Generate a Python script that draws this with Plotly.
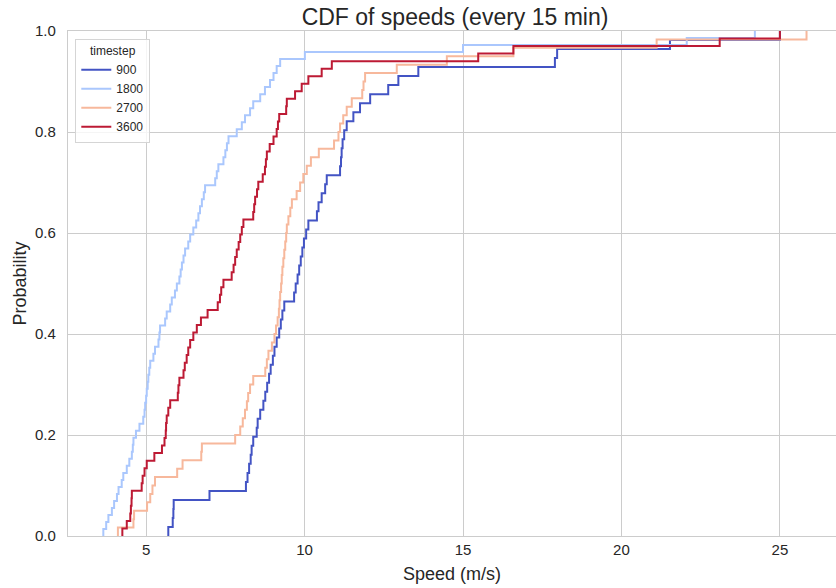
import numpy as np
import plotly.graph_objects as go

# ---- data: individual speed samples (m/s), per timestep ----
timesteps = [900, 1800, 2700, 3600]

speeds_900 = [5.70, 5.84, 5.86, 5.87, 7.00, 8.15, 8.20, 8.25, 8.30, 8.33, 8.38, 8.49,
              8.52, 8.60, 8.70, 8.76, 8.82, 8.88, 8.93, 9.00, 9.05, 9.12, 9.20, 9.25,
              9.30, 9.36, 9.67, 9.72, 9.78, 9.83, 9.88, 9.93, 9.98, 10.05, 10.12, 10.39,
              10.44, 10.54, 10.65, 10.70, 11.12, 11.15, 11.17, 11.20, 11.25, 11.33, 11.54,
              11.75, 12.07, 12.64, 12.96, 13.59, 17.90, 17.97, 21.53, 25.00]

speeds_1800 = [3.65, 3.74, 3.81, 3.92, 3.99, 4.08, 4.13, 4.23, 4.28, 4.39, 4.47, 4.55,
               4.58, 4.60, 4.68, 4.79, 4.91, 4.95, 4.97, 5.00, 5.02, 5.05, 5.07, 5.10,
               5.13, 5.23, 5.28, 5.39, 5.42, 5.44, 5.60, 5.65, 5.76, 5.81, 5.91, 5.97,
               6.05, 6.09, 6.13, 6.18, 6.23, 6.33, 6.39, 6.49, 6.58, 6.65, 6.70, 6.76,
               6.82, 6.86, 7.18, 7.23, 7.28, 7.44, 7.50, 7.55, 7.60, 7.86, 8.02, 8.12,
               8.28, 8.38, 8.60, 8.75, 8.91, 9.02, 9.12, 9.23, 10.01, 15.00, 22.06, 24.21]

speeds_2700 = [4.11, 4.60, 4.62, 5.03, 5.13, 5.20, 5.28, 5.98, 6.15, 6.74, 6.76, 7.81,
               7.97, 8.05, 8.12, 8.18, 8.22, 8.28, 8.38, 8.76, 8.81, 8.86, 8.97, 9.05,
               9.10, 9.15, 9.19, 9.21, 9.23, 9.26, 9.28, 9.30, 9.33, 9.36, 9.39, 9.42,
               9.44, 9.49, 9.55, 9.60, 9.75, 9.86, 9.96, 10.07, 10.20, 10.45, 10.93, 11.07,
               11.12, 11.22, 11.33, 11.49, 11.82, 11.86, 11.91, 12.91, 14.49, 16.59, 21.11, 25.84]

speeds_3600 = [4.25, 4.39, 4.50, 4.52, 4.54, 4.55, 4.86, 4.89, 4.95, 5.02, 5.26, 5.50,
               5.58, 5.62, 5.63, 5.65, 5.70, 5.76, 6.00, 6.02, 6.05, 6.18, 6.22, 6.28,
               6.33, 6.39, 6.49, 6.60, 6.73, 6.94, 7.26, 7.33, 7.37, 7.44, 7.70, 7.76,
               7.81, 7.86, 7.92, 7.97, 8.02, 8.07, 8.38, 8.41, 8.44, 8.50, 8.54, 8.68,
               8.75, 8.78, 8.81, 8.90, 9.02, 9.12, 9.16, 9.20, 9.42, 9.44, 9.70, 9.91,
               10.12, 10.54, 10.86, 15.48, 16.59, 23.10, 25.00]

series = [speeds_900, speeds_1800, speeds_2700, speeds_3600]
colors = ["#4354c4", "#aac7fd", "#f7b89c", "#bd1a34"]  # coolwarm palette

x_ticks = [5, 10, 15, 20, 25]
y_ticks = [0.0, 0.2, 0.4, 0.6, 0.8, 1.0]

FONT = "Arial, 'Liberation Sans', sans-serif"
TXT = "#262626"
GRID = "#cccccc"

fig = go.Figure()
for ts, vals, col in zip(timesteps, series, colors):
    xs = np.sort(np.asarray(vals, dtype=float))
    n = len(xs)
    ys = np.arange(1, n + 1) / n
    x_line = np.concatenate([[xs[0]], xs])
    y_line = np.concatenate([[0.0], ys])
    fig.add_trace(go.Scatter(
        x=x_line, y=y_line, mode="lines", name=str(ts),
        line=dict(color=col, width=2, shape="hv"),
    ))

fig.update_layout(
    width=836, height=588,
    margin=dict(l=68, r=0, t=31, b=52),
    plot_bgcolor="white", paper_bgcolor="white",
    font=dict(family=FONT, color=TXT),
    title=dict(text="CDF of speeds (every 15 min)", x=0.5443, xref="container",
               xanchor="center", y=1 - 17 / 588, yref="container", yanchor="middle",
               font=dict(size=23, color=TXT, family=FONT)),
    legend=dict(
        title=dict(text="timestep", side="top center", font=dict(size=12, color=TXT)),
        x=0.0095, y=0.985, xanchor="left", yanchor="top",
        bgcolor="rgba(255,255,255,0.8)", bordercolor="#d5d5d5", borderwidth=1,
        font=dict(size=12, color=TXT), tracegroupgap=0,
    ),
    showlegend=True,
)

fig.update_xaxes(
    range=[2.535, 26.77], tickvals=x_ticks, ticktext=[str(v) for v in x_ticks],
    showgrid=True, gridcolor=GRID, gridwidth=1, zeroline=False,
    showline=True, linecolor=GRID, linewidth=1.25, mirror=True,
    ticks="", tickfont=dict(size=15, color=TXT),
    title=dict(text="Speed (m/s)", font=dict(size=18, color=TXT), standoff=10),
)
fig.update_yaxes(
    range=[0, 1], tickvals=y_ticks, ticktext=[f"{v:.1f}" for v in y_ticks],
    showgrid=True, gridcolor=GRID, gridwidth=1, zeroline=False,
    showline=True, linecolor=GRID, linewidth=1.25, mirror=False,
    ticks="", tickfont=dict(size=15, color=TXT), ticklabelstandoff=8,
    title=dict(text="Probability", font=dict(size=18, color=TXT), standoff=3),
)

fig.write_html("out.html")
